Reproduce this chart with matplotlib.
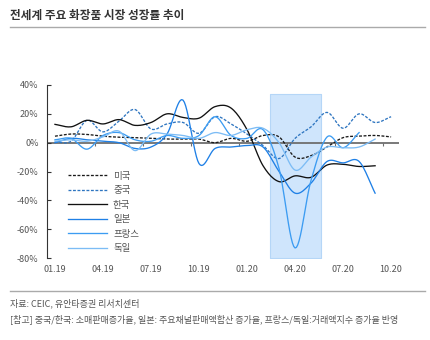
import numpy as np
import matplotlib
matplotlib.use("Agg")
import matplotlib.pyplot as plt
from matplotlib.lines import Line2D

plt.rcParams['font.family'] = ['Noto Sans CJK KR', 'DejaVu Sans']

# monthly growth rates (%), Jan 2019 onward
months = ["01.19", "02.19", "03.19", "04.19", "05.19", "06.19", "07.19", "08.19",
          "09.19", "10.19", "11.19", "12.19", "01.20", "02.20", "03.20", "04.20",
          "05.20", "06.20", "07.20", "08.20", "09.20", "10.20"]
us = [4.5, 6, 5.7, 4.5, 3.8, 3.5, 3, 2.5, 2.5, 2.5, 0, 3, 1, 5, 4, -10, -9, -3, 3.5, 4.5, 5, 4]
china = [0.5, 1, 15.5, 7.5, 15, 23, 9.5, 13, 14, 6.5, 18, 13, 6, -2, -11, 3, 11, 21, 10, 20, 14, 18]
korea = [12.7, 11, 15.5, 13, 16, 12, 14, 20, 17.5, 17, 25, 24, 9, -16, -27, -23, -24, -15.5, -15, -16.5, -16]
japan = [0, 3, 2, 1, 0, -4, -3, 6, 29.5, -14.5, -4, -3, -2, -3, -20, -35, -28, -13, -14, -13, -35]
france = [2, 3, -4.5, 5, 7, 2, 1, 5, 3, 5, 18, 5, 3, 9, -18, -73, -26, 4, -3.5, 7]
germany = [1, 2, 1, 4, 8, -5.5, 6, 6, 5, 3, 7, 5, 9, 10, 0, -19, -10, -3, -3.5, -3, 2.5]

labels = ["미국", "중국", "한국", "일본", "프랑스", "독일"]
series = [us, china, korea, japan, france, germany]
colors = ["#1a1a1a", "#2e75c0", "#111111", "#1f80e6", "#3c9cf2", "#7cbcf5"]
styles = ["--", "--", "-", "-", "-", "-"]


def smooth(y, n=12):
    # Catmull-Rom through the monthly points (like an Excel smoothed line)
    y = np.asarray(y, float)
    p = np.concatenate([[2 * y[0] - y[1]], y, [2 * y[-1] - y[-2]]])
    xs, ys = [], []
    t = np.linspace(0, 1, n, endpoint=False)
    for i in range(1, len(p) - 2):
        p0, p1, p2, p3 = p[i - 1], p[i], p[i + 1], p[i + 2]
        seg = 0.5 * ((2 * p1) + (-p0 + p2) * t + (2 * p0 - 5 * p1 + 4 * p2 - p3) * t ** 2
                     + (-p0 + 3 * p1 - 3 * p2 + p3) * t ** 3)
        xs.append(i - 1 + t)
        ys.append(seg)
    xs.append([len(y) - 1])
    ys.append([y[-1]])
    return np.concatenate(xs), np.concatenate(ys)


fig = plt.figure(figsize=(4.31, 3.40), dpi=100)
ax = fig.add_axes([0.109, 0.241, 0.817, 0.509])

# covid period shading
ax.fill_between([13.45, 16.65], -80, 33.75, color="#cfe5fc", edgecolor="#b5d6f7",
                linewidth=0.8, zorder=0)

ax.axhline(0, color="#6e6e6e", linewidth=1.3, zorder=1)
tick_pos = np.arange(2.5, len(months), 3)
ax.vlines(tick_pos, -2.2, 0, color="#6e6e6e", linewidth=0.8, zorder=1)

for vals, lab, col, ls in zip(series, labels, colors, styles):
    xs, ys = smooth(vals)
    ax.plot(xs, ys, color=col, linestyle=ls, linewidth=0.95, zorder=3,
            dashes=(2.2, 1.2) if ls == "--" else (None, None))

ax.set_xlim(-0.5, len(months) - 0.5)
ax.set_ylim(-80, 40)
ax.set_yticks(np.arange(-80, 41, 20))
ax.set_yticklabels([f"{v}%" for v in range(-80, 41, 20)])
ax.set_xticks(np.arange(0, len(months), 3))
ax.set_xticklabels(months[::3])
ax.tick_params(axis="x", length=0, pad=5, labelsize=6.5, labelcolor="#555555")
ax.tick_params(axis="y", direction="in", length=3, width=0.8, color="#333333",
               labelsize=6.5, labelcolor="#555555", pad=6)
for s in ["top", "right", "bottom"]:
    ax.spines[s].set_visible(False)
ax.spines["left"].set_color("#333333")
ax.spines["left"].set_linewidth(0.8)

handles = [Line2D([], [], color=c, linestyle=ls, linewidth=0.95,
                  dashes=(2.2, 1.2) if ls == "--" else (None, None))
           for c, ls in zip(colors, styles)]
leg = ax.legend(handles, labels, loc="lower left", bbox_to_anchor=(0.04, -0.01),
                frameon=False, fontsize=6.8, handlelength=4.2, handletextpad=0.6,
                labelspacing=0.58, borderaxespad=0.3)
for t in leg.get_texts():
    t.set_color("#555555")

fig.text(0.023, 0.955, "전세계 주요 화장품 시장 성장률 추이", fontsize=8.4, fontweight="bold",
         color="#333333", va="center", ha="left")
fig.add_artist(Line2D([0.023, 0.985], [0.92, 0.92], color="#aaaaaa", linewidth=1.0))
fig.add_artist(Line2D([0.023, 0.985], [0.145, 0.145], color="#aaaaaa", linewidth=1.0))
fig.text(0.023, 0.108, "자료: CEIC, 유안타증권 리서치센터", fontsize=6.5, color="#555555",
         va="center", ha="left")
fig.text(0.023, 0.061, "[참고] 중국/한국: 소매판매증가율, 일본: 주요채널판매액합산 증가율, 프랑스/독일:거래액지수 증가율 반영",
         fontsize=6.5, color="#555555", va="center", ha="left")

fig.savefig("out.png", dpi=100)
